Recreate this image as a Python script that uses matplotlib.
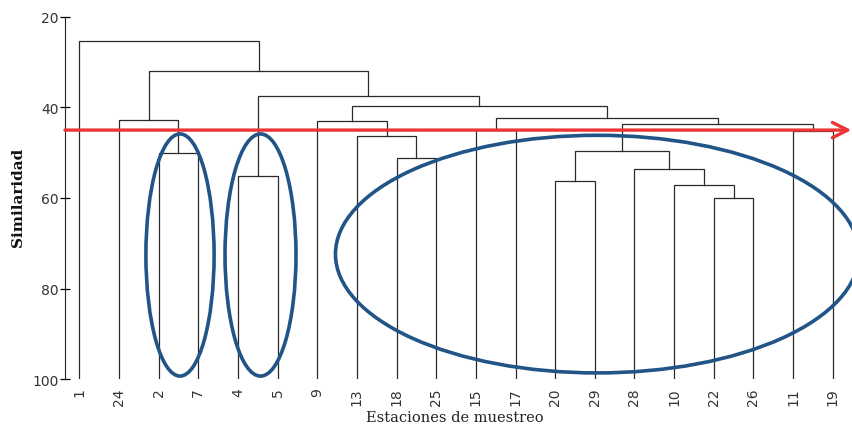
import numpy as np
import matplotlib.pyplot as plt
from matplotlib.patches import Ellipse

# estaciones en el orden del dendrograma
estaciones = ['1', '24', '2', '7', '4', '5', '9', '13', '18', '25',
              '15', '17', '20', '29', '28', '10', '22', '26', '11', '19']

# uniones: (grupo a, grupo b, similaridad, nombre del grupo nuevo)
uniones = [
    ('2', '7', 50.0, 'A'),
    ('24', 'A', 42.7, 'B'),
    ('4', '5', 55.2, 'C'),
    ('18', '25', 51.1, 'D'),
    ('13', 'D', 46.2, 'E'),
    ('9', 'E', 43.1, 'F'),
    ('15', '17', 45.0, 'G'),
    ('20', '29', 56.2, 'H'),
    ('22', '26', 60.1, 'I'),
    ('10', 'I', 57.1, 'J'),
    ('28', 'J', 53.7, 'K'),
    ('H', 'K', 49.6, 'L'),
    ('11', '19', 45.3, 'M'),
    ('L', 'M', 43.6, 'N'),
    ('G', 'N', 42.3, 'O'),
    ('F', 'O', 39.6, 'P'),
    ('C', 'P', 37.4, 'Q'),
    ('B', 'Q', 31.9, 'R'),
    ('1', 'R', 25.4, 'S'),
]

corte = 45.0
yticks = [20, 40, 60, 80, 100]

fig = plt.figure(figsize=(8.53, 4.27), dpi=100)
ax = fig.add_axes([0.0762, 0.110, 0.9238, 0.848])

# posicion y altura de cada nodo
pos = {e: i for i, e in enumerate(estaciones)}
alt = {e: 100 for e in estaciones}
lc = '#2a2a2a'
for a, b, h, n in uniones:
    xa, xb = pos[a], pos[b]
    ax.plot([xa, xa, xb, xb], [alt[a], h, h, alt[b]], color=lc, lw=0.9,
            solid_joinstyle='miter')
    pos[n] = (xa + xb) / 2
    alt[n] = h

# linea de corte
ax.annotate('', xy=(19.47, corte), xytext=(-0.36, corte),
            arrowprops=dict(arrowstyle='->,head_length=1.1,head_width=0.55',
                            color='#ec3434', lw=2.4, shrinkA=0, shrinkB=0))
ax.plot([-0.36, 19.2], [corte - 0.35] * 2, color='#8b1a1a', lw=0.7,
        ls=(0, (5, 2, 1, 2)))

# grupos
azul = '#215487'
for cx, w, cy, hh in [(2.54, 1.72, 72.6, 53.5),
                      (4.57, 1.79, 72.6, 53.5),
                      (13.06, 13.2, 72.4, 52.5)]:
    ax.add_patch(Ellipse((cx, cy), w, hh, fill=False, ec=azul, lw=2.6,
                         clip_on=False, zorder=5))

ax.set_xlim(-0.36, 19.51)
ax.set_ylim(100, 20)
ax.set_yticks(yticks)
ax.set_xticks(range(len(estaciones)))
ax.set_xticklabels(estaciones, rotation=90, va='top')
for s in ['top', 'right', 'bottom']:
    ax.spines[s].set_visible(False)
ax.spines['left'].set_color('#222')
ax.tick_params(axis='y', direction='inout', length=7.5, width=0.9,
               labelsize=10, labelcolor='#333', pad=1)
ax.tick_params(axis='x', length=0, labelsize=10, labelcolor='#333', pad=6)

ax.set_xlabel('Estaciones de muestreo', family='DejaVu Serif', fontsize=10.5,
              color='#222')
ax.xaxis.set_label_coords(0.495, -0.085)
ax.set_ylabel('Similaridad', family='DejaVu Serif', fontweight='bold',
              fontsize=11, color='#111')
ax.yaxis.set_label_coords(-0.051, 0.505)

fig.savefig('out.png', dpi=100)
